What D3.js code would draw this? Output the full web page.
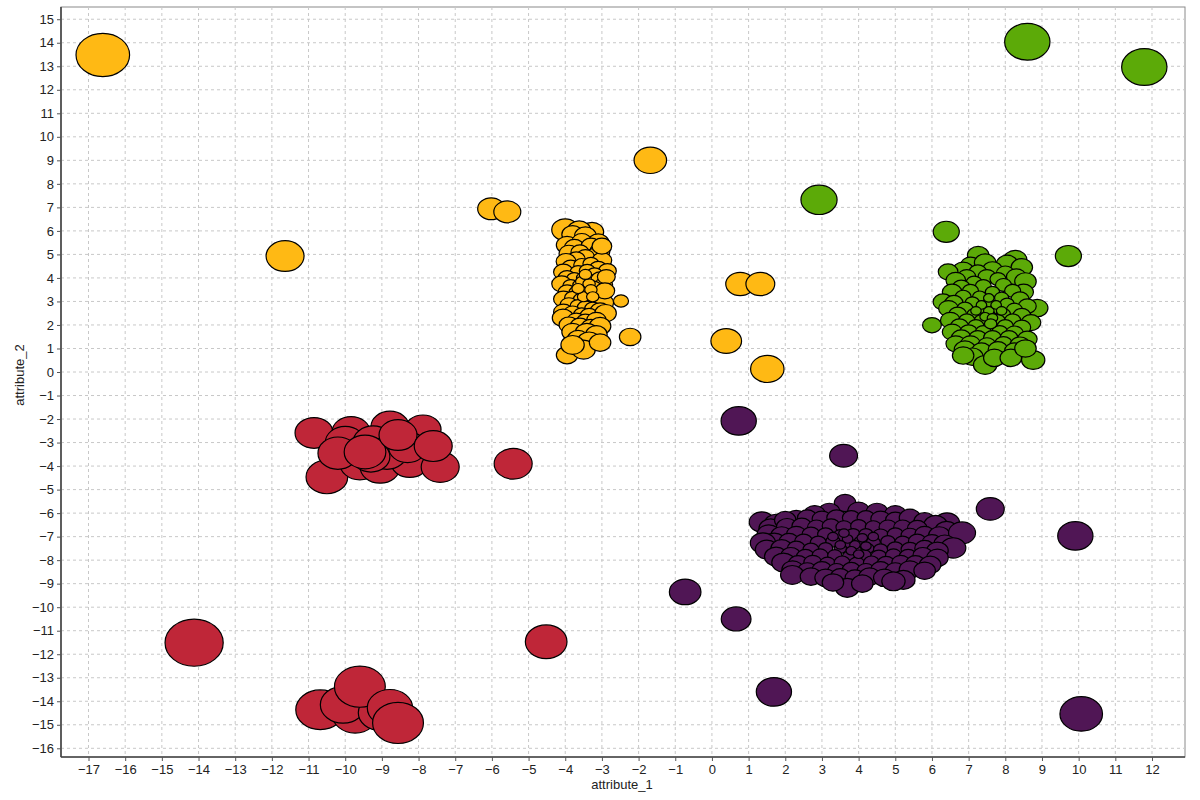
<!DOCTYPE html>
<html><head><meta charset="utf-8">
<script src="https://cdn.jsdelivr.net/npm/d3@7"></script>
<style>
html,body{margin:0;padding:0;background:#fff;}
svg{display:block;font-family:"Liberation Sans",Arial,Helvetica,sans-serif;}
</style></head>
<body>
<svg id="chart" width="1200" height="800"></svg>
<script>
// ---- data: each point is [attribute_1, attribute_2, score] ----
const xTicks = d3.range(-17, 13);
const yTicks = d3.range(-16, 16);
const xLabel = "attribute_1";
const yLabel = "attribute_2";

const yellowPoints = [
 [-16.61,13.48,26.5],[-11.64,4.93,18],[-6.02,6.94,12],[-5.58,6.81,12],[-1.68,9.0,15],
 [-2.48,3.02,5.5],[-2.23,1.49,9],[-3.95,0.72,9],[0.77,3.74,13],[1.32,3.74,13],
 [0.39,1.32,14],[1.51,0.13,15.5],
 [-4.00,6.05,12],[-3.27,5.96,10],[-3.62,6.02,10],[-3.80,5.85,9],[-3.45,5.80,9],[-3.95,5.40,9],
 [-3.10,5.50,9],[-3.55,5.55,8],[-3.75,5.30,8],[-3.30,5.35,8],[-3.05,5.15,8],[-3.90,5.05,8],
 [-3.60,5.10,7],[-3.20,4.95,7],[-3.45,4.90,7],[-3.70,4.80,7],[-3.98,4.70,8],[-3.00,4.75,8],
 [-3.85,4.45,7],[-3.55,4.55,6],[-3.30,4.60,6],[-3.10,4.40,7],[-2.85,4.30,7],[-4.05,4.25,8],
 [-3.65,4.25,6],[-3.40,4.30,6],[-3.20,4.15,6],[-3.95,4.00,7],[-3.75,3.95,6],[-3.50,4.00,5],
 [-3.30,3.90,5],[-3.05,3.95,7],[-2.95,3.70,7],[-4.10,3.75,8],[-3.85,3.65,6],[-3.60,3.70,5],
 [-3.42,3.60,5],[-3.22,3.62,5],[-3.15,3.35,6],[-3.95,3.40,7],[-3.70,3.40,5],[-3.50,3.35,5],
 [-3.30,3.30,5],[-3.00,3.25,7],[-4.05,3.10,8],[-3.80,3.15,6],[-3.58,3.10,5],[-3.40,3.05,5],
 [-3.20,3.00,6],[-2.95,2.95,8],[-3.90,2.85,7],[-3.65,2.80,6],[-3.45,2.75,6],[-3.25,2.70,6],
 [-3.05,2.60,8],[-4.05,2.55,8],[-3.80,2.50,7],[-3.55,2.45,6],[-3.35,2.40,7],[-2.90,2.50,9],
 [-4.06,2.30,9],[-3.70,2.20,7],[-3.45,2.15,7],[-3.15,2.20,8],[-3.90,2.00,8],[-3.60,1.95,8],
 [-3.30,1.90,8],[-3.05,1.95,9],[-3.80,1.70,9],[-3.41,1.67,10],[-3.15,1.60,9],[-3.65,1.40,9],
 [-3.35,1.30,10],[-3.50,0.95,10],[-3.05,1.25,9],[-3.80,1.15,10],[-2.88,4.05,7],[-2.92,3.45,8],
 [-3.00,5.35,8],[-3.55,3.85,4],[-3.35,3.75,4],[-3.50,3.20,4],[-3.30,3.50,4],[-3.65,3.55,4],
 [-3.45,4.15,4],[-3.25,3.20,4]
];

const greenPoints = [
 [8.60,14.04,22],[11.79,12.97,22],[2.92,7.32,17],[6.39,5.96,11.5],[9.72,4.93,11.5],[6.00,1.99,7.5],
 [7.26,4.97,9],[8.27,4.77,10],[8.05,4.60,9],[7.05,4.55,8],[7.45,4.65,9],[6.85,4.30,9],
 [6.44,4.26,8],[7.65,4.35,8],[8.45,4.45,9],[7.25,4.25,7],[8.00,4.20,7],[6.95,4.05,7],
 [7.50,4.05,7],[8.30,4.05,8],[6.65,3.90,8],[7.80,3.95,6],[7.15,3.80,6],[8.55,3.85,9],
 [6.80,3.60,7],[7.40,3.65,6],[7.95,3.70,6],[8.50,3.40,8],[6.55,3.40,8],[7.05,3.45,6],
 [7.65,3.40,5],[8.20,3.45,6],[6.30,2.98,8],[6.85,3.20,6],[7.30,3.20,5],[7.90,3.15,5],
 [8.40,3.10,7],[6.60,2.95,7],[7.10,2.95,5],[7.55,2.95,4],[8.05,2.90,5],[8.87,2.72,9],
 [8.60,2.80,7],[6.45,2.70,8],[6.90,2.70,6],[7.35,2.70,4],[7.75,2.70,4],[8.25,2.65,6],
 [6.70,2.45,7],[7.15,2.45,5],[7.55,2.45,4],[7.95,2.45,5],[8.45,2.40,7],[6.50,2.20,8],
 [6.95,2.20,6],[7.35,2.20,5],[7.80,2.20,5],[8.20,2.20,6],[8.70,2.10,8],[6.75,1.95,7],
 [7.20,1.95,6],[7.60,1.95,5],[8.00,1.95,6],[8.45,1.90,7],[6.55,1.70,8],[7.00,1.70,7],
 [7.40,1.70,6],[7.85,1.70,6],[8.25,1.65,7],[6.80,1.45,8],[7.25,1.45,7],[7.65,1.45,7],
 [8.10,1.45,7],[8.60,1.40,8],[6.65,1.20,8],[7.05,1.20,8],[7.50,1.15,7],[7.95,1.20,7],
 [8.40,1.15,8],[6.90,0.95,9],[7.35,0.90,8],[7.80,0.95,8],[8.25,0.90,8],[7.10,0.65,9],
 [7.45,0.30,10],[7.70,0.60,9],[8.76,0.51,10],[8.15,0.60,9],[6.85,0.70,9],[8.55,1.00,9],
 [7.55,2.60,3],[7.35,2.85,3],[7.75,2.85,3],[7.45,2.35,3],[7.65,2.30,3],[7.20,2.60,3],
 [7.90,2.60,3],[7.55,3.15,3],[7.60,2.05,4]
];

const purplePoints = [
 [0.73,-2.08,16.5],[3.59,-3.56,12.5],[7.59,-5.82,12.5],[9.91,-6.97,16.5],[-0.73,-9.35,14.5],
 [0.66,-10.50,13.5],[1.69,-13.60,16.5],[10.07,-14.54,20.5],
 [3.63,-5.57,9],[3.20,-5.95,9],[4.00,-5.90,9],[4.50,-5.95,9],[2.80,-6.05,9],[5.00,-6.05,9],
 [2.30,-6.25,9],[2.60,-6.20,8],[3.00,-6.25,8],[3.40,-6.20,8],[3.80,-6.20,7],[4.20,-6.20,7],
 [4.60,-6.25,8],[5.00,-6.30,8],[5.40,-6.20,9],[5.80,-6.35,9],[1.36,-6.38,11],[1.75,-6.45,10],
 [6.41,-6.42,11],[6.10,-6.50,10],[1.60,-6.65,10],[2.00,-6.30,9],[6.40,-6.75,10],
 [2.05,-6.60,9],[2.45,-6.55,8],[2.85,-6.60,7],[3.25,-6.55,7],[3.60,-6.60,6],[4.00,-6.55,6],
 [4.40,-6.60,6],[4.80,-6.60,7],[5.20,-6.60,7],[5.60,-6.65,8],
 [1.55,-6.90,10],[1.90,-6.95,9],[2.30,-6.90,8],[2.70,-6.90,7],[3.10,-6.90,6],[3.50,-6.95,5],
 [3.85,-6.90,5],[4.20,-6.90,5],[4.60,-6.95,6],[5.00,-6.90,6],[5.40,-6.95,7],[5.80,-6.90,8],
 [6.20,-6.95,9],[6.82,-6.84,12],
 [1.70,-7.25,10],[2.10,-7.20,8],[2.50,-7.20,7],[2.90,-7.25,6],[3.30,-7.20,5],[3.70,-7.25,4],
 [4.05,-7.20,4],[4.40,-7.25,5],[4.80,-7.20,5],[5.20,-7.25,6],[5.60,-7.20,7],[6.00,-7.25,8],
 [6.35,-7.30,9],[1.39,-7.27,11],
 [1.50,-7.55,10],[1.90,-7.50,9],[2.30,-7.50,7],[2.70,-7.55,6],[3.10,-7.50,5],[3.50,-7.50,4],
 [3.90,-7.55,4],[4.25,-7.50,4],[4.60,-7.55,5],[5.00,-7.50,6],[5.40,-7.55,7],[5.80,-7.50,8],
 [6.58,-7.48,11],[6.15,-7.60,9],
 [1.75,-7.85,10],[2.15,-7.80,8],[2.55,-7.85,7],[2.95,-7.80,6],[3.35,-7.80,5],[3.75,-7.85,5],
 [4.15,-7.80,5],[4.55,-7.85,6],[4.95,-7.80,6],[5.35,-7.85,7],[5.75,-7.80,8],[6.15,-7.90,9],
 [1.95,-8.10,10],[2.35,-8.15,8],[2.75,-8.10,7],[3.15,-8.15,6],[3.55,-8.10,6],[3.95,-8.15,6],
 [4.35,-8.10,6],[4.75,-8.15,7],[5.15,-8.10,7],[5.55,-8.15,8],[5.95,-8.20,9],
 [2.20,-8.40,9],[2.60,-8.45,8],[3.00,-8.40,8],[3.40,-8.45,7],[3.80,-8.40,7],[4.20,-8.45,7],
 [4.60,-8.40,8],[5.00,-8.45,8],[5.40,-8.40,9],[5.80,-8.45,9],
 [2.19,-8.63,10],[2.70,-8.70,9],[3.10,-8.75,9],[3.50,-8.70,8],[3.90,-8.75,8],[4.30,-8.70,9],
 [4.70,-8.75,9],[5.22,-8.84,10],[4.95,-8.90,10],[3.69,-9.18,10],[3.30,-8.95,9],[4.10,-9.00,9],
 [3.90,-7.35,3],[3.70,-7.10,3],[4.20,-7.40,3],[3.50,-7.35,3],[4.10,-7.05,3],[3.80,-7.60,3],
 [4.40,-7.00,3],[3.30,-7.00,3],[4.00,-7.75,3],[3.60,-6.85,3]
];

const redPoints = [
 [-14.12,-11.51,29],[-4.52,-11.47,20],[-5.42,-3.90,18],
 [-10.50,-4.46,20],[-10.85,-2.59,18],[-9.84,-2.55,18],[-8.78,-2.32,18],[-7.88,-2.45,17],
 [-9.60,-3.90,19],[-9.05,-4.04,19],[-8.24,-3.83,18],[-7.41,-4.04,18],[-10.00,-3.00,19],
 [-9.24,-2.98,19],[-8.86,-3.45,19],[-9.30,-3.60,18],[-8.30,-3.20,18],[-10.20,-3.45,19],
 [-9.46,-3.40,20],[-8.56,-2.68,18],[-7.60,-3.15,18],
 [-10.68,-14.36,24],[-9.73,-14.57,22],[-10.06,-14.15,22],[-9.05,-14.49,21],
 [-9.60,-13.38,25],[-8.78,-14.28,22],[-8.56,-14.92,25]
];

const clusters = [
  {name:"cluster_1", color:"#FFB914", points:yellowPoints},
  {name:"cluster_2", color:"#5CAA08", points:greenPoints},
  {name:"cluster_3", color:"#501655", points:purplePoints},
  {name:"cluster_4", color:"#BF2638", points:redPoints}
];

// ---- drawing ----
const svg = d3.select("#chart");
const padL = 61, padR = 1185, padT = 7, padB = 757;
const x = d3.scaleLinear().domain([-17.75, 12.9]).range([padL, padR]);
const y = d3.scaleLinear().domain([-16.37, 15.52]).range([padB, padT]);
const rScale = d3.scaleLinear().domain([0, 30]).range([2.5, 30]);

// frame (top/right)
svg.append("rect").attr("x", padL).attr("y", padT).attr("width", padR-padL).attr("height", padB-padT)
  .attr("fill", "none").attr("stroke", "#8a8a8a").attr("stroke-width", 1);

// grid
const grid = svg.append("g").attr("stroke", "#c8c8c8").attr("stroke-width", 1).attr("stroke-dasharray", "3,3");
grid.selectAll("line.v").data(xTicks).join("line")
  .attr("x1", d => x(d)).attr("x2", d => x(d)).attr("y1", padT).attr("y2", padB);
grid.selectAll("line.h").data(yTicks).join("line")
  .attr("y1", d => y(d)).attr("y2", d => y(d)).attr("x1", padL).attr("x2", padR);

// points
const pg = svg.append("g");
clusters.forEach(c => {
  pg.append("g").selectAll("ellipse").data(c.points).join("ellipse")
    .attr("cx", d => x(d[0])).attr("cy", d => y(d[1]))
    .attr("rx", d => rScale(d[2])).attr("ry", d => rScale(d[2]) * 0.81)
    .attr("fill", c.color).attr("stroke", "#000").attr("stroke-width", 1.2);
});

// axes
const xAxis = svg.append("g").attr("transform", `translate(0,${padB})`)
  .call(d3.axisBottom(x).tickValues(xTicks).tickSize(4).tickSizeOuter(0).tickFormat(d3.format("d")));
const yAxis = svg.append("g").attr("transform", `translate(${padL},0)`)
  .call(d3.axisLeft(y).tickValues(yTicks).tickSize(4).tickSizeOuter(0).tickFormat(d3.format("d")));
[xAxis, yAxis].forEach(a => {
  a.select(".domain").attr("stroke", "#444").attr("stroke-width", 1.6);
  a.selectAll(".tick line").attr("stroke", "#555");
  a.selectAll(".tick text").attr("fill", "#222").style("font-size", "13px")
   .style("font-family", '"Liberation Sans",Arial,sans-serif');
});
xAxis.select(".domain").attr("d", `M${padL},0H${padR}`);
yAxis.select(".domain").attr("d", `M0,${padT}V${padB}`);
xAxis.selectAll(".tick text").attr("dy", "0.9em").attr("y", 5);
yAxis.selectAll(".tick text").attr("x", -7);

svg.append("text").attr("x", 622).attr("y", 789).attr("text-anchor", "middle")
  .attr("fill", "#222").style("font-size", "13px").text(xLabel);
svg.append("text").attr("transform", "translate(24,375) rotate(-90)").attr("text-anchor", "middle")
  .attr("fill", "#222").style("font-size", "13px").text(yLabel);
</script>
</body></html>
